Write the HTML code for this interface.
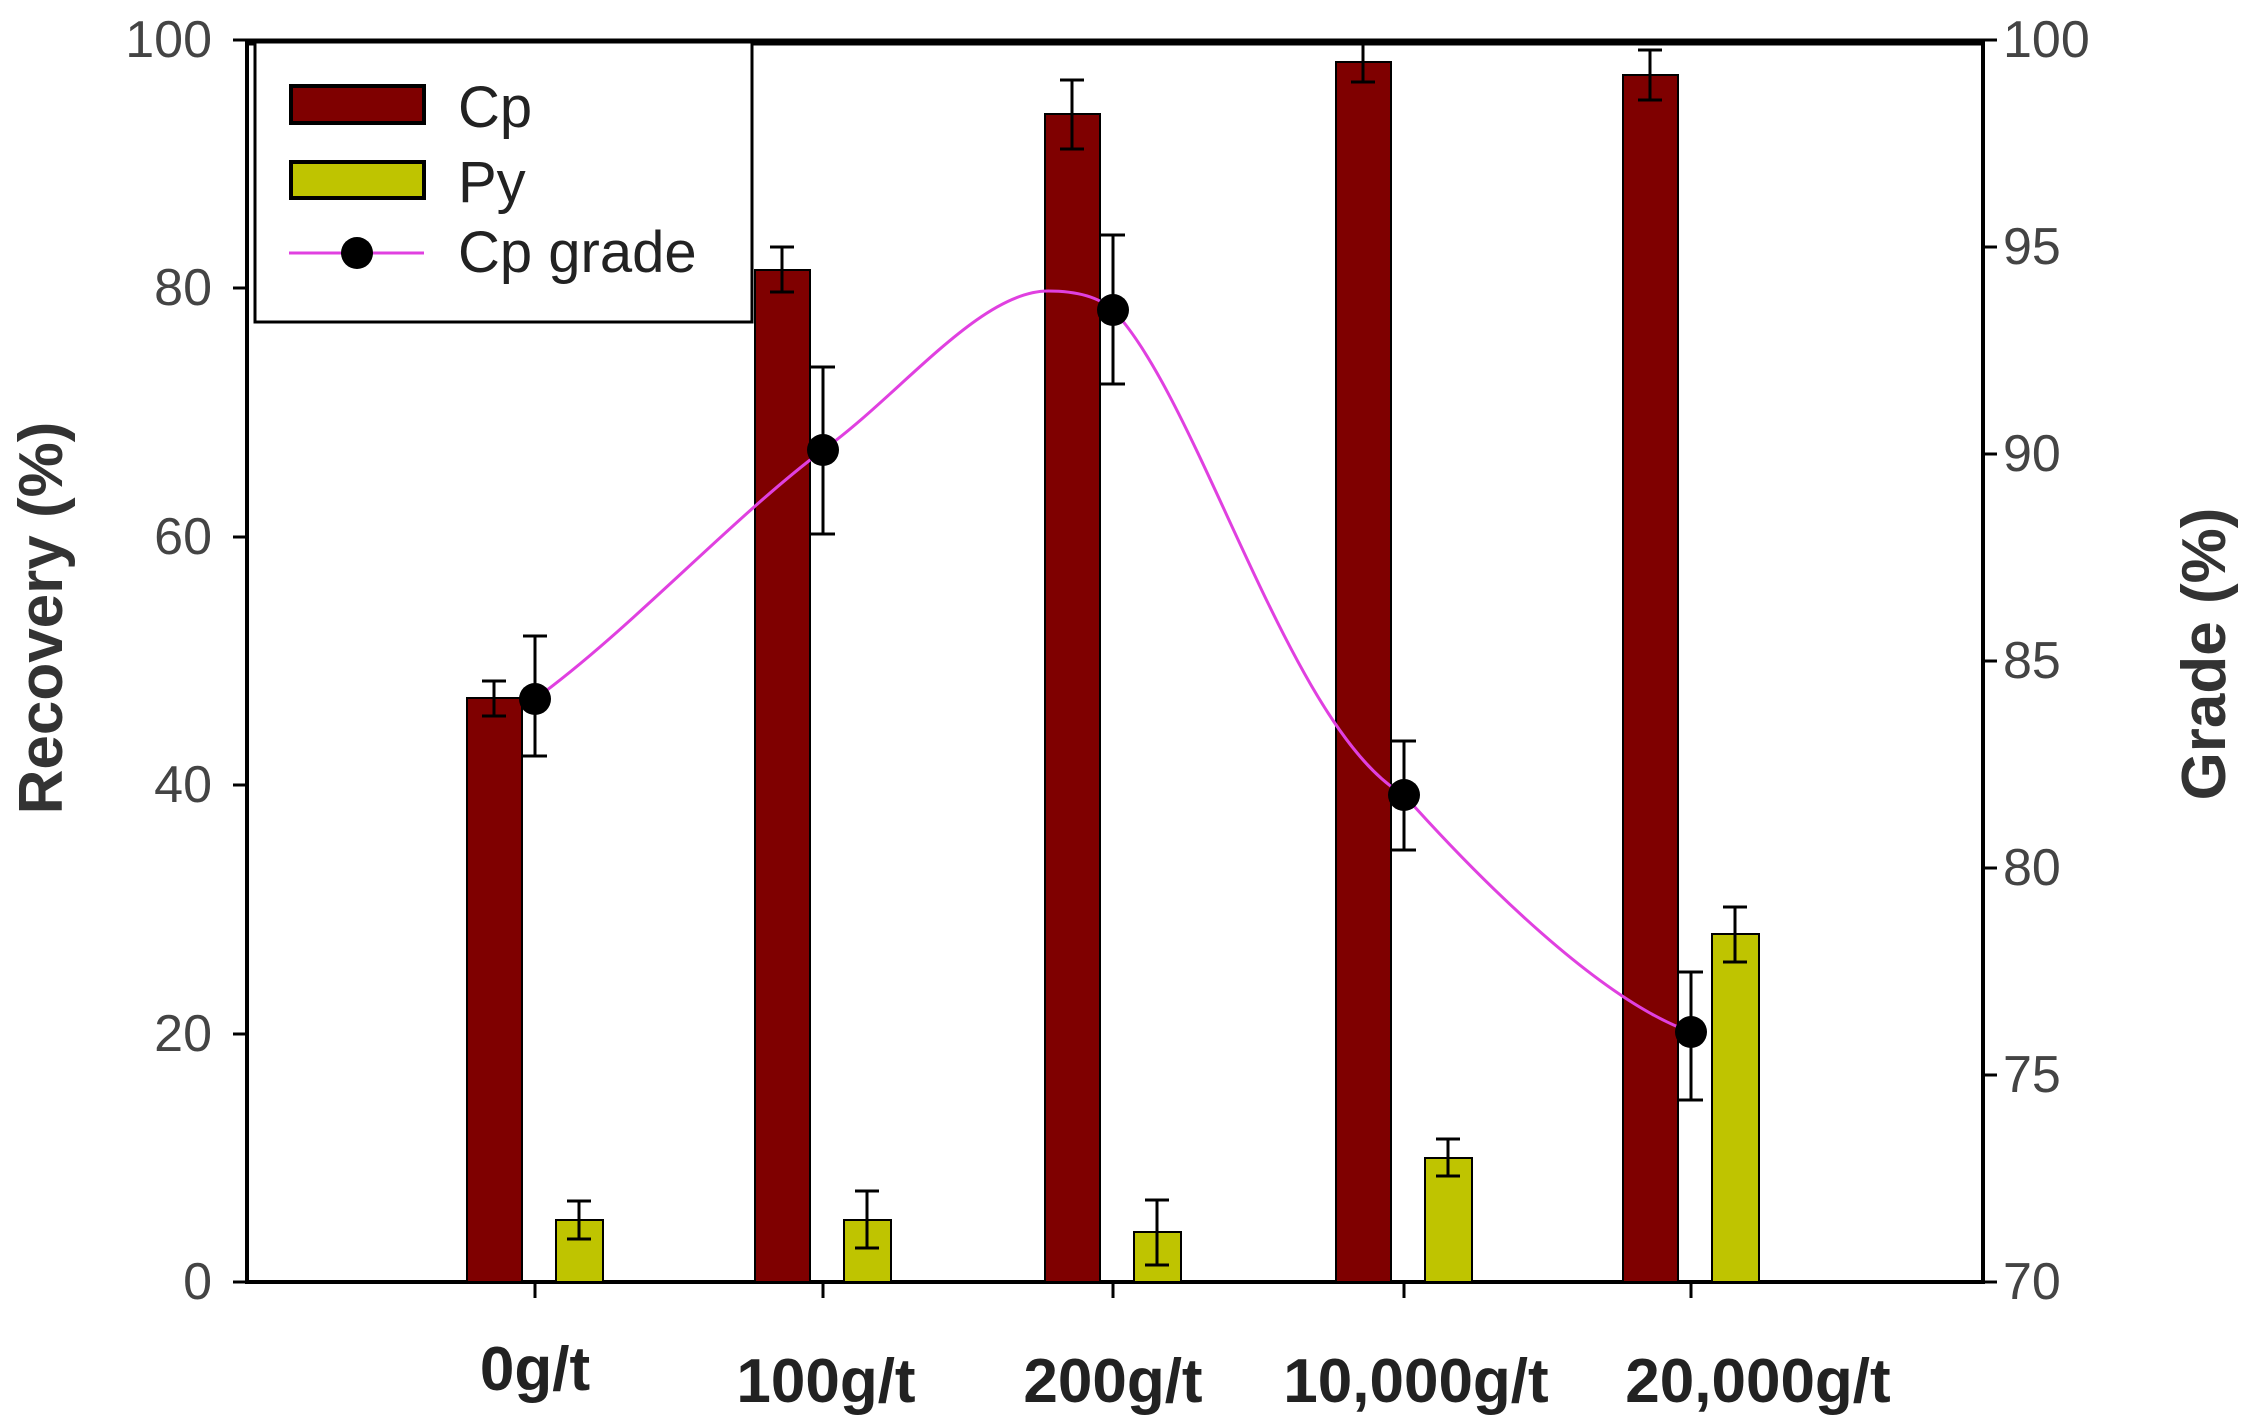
<!DOCTYPE html>
<html><head><meta charset="utf-8"><style>
html,body{margin:0;padding:0;background:#fff;}
svg{display:block;}
text{font-family:"Liberation Sans",Arial,sans-serif;}
</style></head><body>
<svg width="2251" height="1419" viewBox="0 0 2251 1419" xmlns="http://www.w3.org/2000/svg">
<rect width="2251" height="1419" fill="#fff"/>
<line x1="245" y1="42" x2="1984" y2="42" stroke="#000" stroke-width="7"/>
<line x1="247" y1="40" x2="247" y2="1284" stroke="#000" stroke-width="4"/>
<line x1="1983" y1="40" x2="1983" y2="1284" stroke="#000" stroke-width="4"/>
<line x1="247" y1="1282" x2="1983" y2="1282" stroke="#000" stroke-width="4"/>
<g stroke="#000" stroke-width="3">
<line x1="233" y1="40" x2="247" y2="40"/><line x1="233" y1="288" x2="247" y2="288"/><line x1="233" y1="537" x2="247" y2="537"/><line x1="233" y1="785" x2="247" y2="785"/><line x1="233" y1="1034" x2="247" y2="1034"/><line x1="233" y1="1282" x2="247" y2="1282"/>
<line x1="1983" y1="40" x2="1997" y2="40"/><line x1="1983" y1="247" x2="1997" y2="247"/><line x1="1983" y1="454" x2="1997" y2="454"/><line x1="1983" y1="661" x2="1997" y2="661"/><line x1="1983" y1="868" x2="1997" y2="868"/><line x1="1983" y1="1075" x2="1997" y2="1075"/><line x1="1983" y1="1282" x2="1997" y2="1282"/>
<line x1="535" y1="1282" x2="535" y2="1298"/><line x1="823" y1="1282" x2="823" y2="1298"/><line x1="1113" y1="1282" x2="1113" y2="1298"/><line x1="1404" y1="1282" x2="1404" y2="1298"/><line x1="1691" y1="1282" x2="1691" y2="1298"/>
</g>
<g font-size="52" fill="#444" text-anchor="end">
<text x="212" y="57">100</text><text x="212" y="305">80</text><text x="212" y="554">60</text><text x="212" y="802">40</text><text x="212" y="1051">20</text><text x="212" y="1299">0</text>
</g>
<g font-size="52" fill="#444" text-anchor="start">
<text x="2003" y="57">100</text><text x="2003" y="264">95</text><text x="2003" y="471">90</text><text x="2003" y="678">85</text><text x="2003" y="885">80</text><text x="2003" y="1092">75</text><text x="2003" y="1299">70</text>
</g>
<g font-size="62" font-weight="bold" fill="#222" text-anchor="middle">
<text x="535" y="1390">0g/t</text><text x="826" y="1402">100g/t</text><text x="1113" y="1402">200g/t</text><text x="1416" y="1402">10,000g/t</text><text x="1758" y="1402">20,000g/t</text>
</g>
<text transform="translate(62,618) rotate(-90)" font-size="62" font-weight="bold" fill="#333" text-anchor="middle">Recovery (%)</text>
<text transform="translate(2225,654) rotate(-90)" font-size="62" font-weight="bold" fill="#333" text-anchor="middle">Grade (%)</text>
<g fill="#7f0000" stroke="#000" stroke-width="2">
<rect x="467" y="698" width="55" height="584"/>
<rect x="755" y="270" width="55" height="1012"/>
<rect x="1045" y="114" width="55" height="1168"/>
<rect x="1336" y="62" width="55" height="1220"/>
<rect x="1623" y="75" width="55" height="1207"/>
</g>
<g fill="#bfc400" stroke="#000" stroke-width="2">
<rect x="556" y="1220" width="47" height="62"/>
<rect x="844" y="1220" width="47" height="62"/>
<rect x="1134" y="1232" width="47" height="50"/>
<rect x="1425" y="1158" width="47" height="124"/>
<rect x="1712" y="934" width="47" height="348"/>
</g>
<g stroke="#000" stroke-width="3" fill="none">
<path d="M494,681V716M482,681H506M482,716H506"/>
<path d="M782,247V292M770,247H794M770,292H794"/>
<path d="M1072,80V149M1060,80H1084M1060,149H1084"/>
<path d="M1363,42V82M1351,42H1375M1351,82H1375"/>
<path d="M1650,50V100M1638,50H1662M1638,100H1662"/>
<path d="M579,1201V1239M567,1201H591M567,1239H591"/>
<path d="M867,1191V1248M855,1191H879M855,1248H879"/>
<path d="M1157,1200V1265M1145,1200H1169M1145,1265H1169"/>
<path d="M1448,1139V1176M1436,1139H1460M1436,1176H1460"/>
<path d="M1735,907V962M1723,907H1747M1723,962H1747"/>
<path d="M535,636V756M523,636H547M523,756H547"/>
<path d="M823,367V534M811,367H835M811,534H835"/>
<path d="M1113,235V384M1101,235H1125M1101,384H1125"/>
<path d="M1404,741V850M1392,741H1416M1392,850H1416"/>
<path d="M1691,972V1100M1679,972H1703M1679,1100H1703"/>
</g>
<path d="M535,699 C630,630 730,520 823,450 C900,395 980,291 1048,291 C1080,291 1100,298 1113,310 C1200,400 1290,730 1404,795 C1480,880 1600,1000 1691,1032" stroke="#e040e0" stroke-width="3" fill="none"/>
<g fill="#000">
<circle cx="535" cy="699" r="16"/><circle cx="823" cy="450" r="16"/><circle cx="1113" cy="310" r="16"/><circle cx="1404" cy="795" r="16"/><circle cx="1691" cy="1032" r="16"/>
</g>
<rect x="255" y="42" width="497" height="280" fill="#fff" stroke="#000" stroke-width="3"/>
<rect x="291" y="86" width="133" height="37" fill="#7f0000" stroke="#000" stroke-width="4"/>
<rect x="291" y="162" width="133" height="36" fill="#bfc400" stroke="#000" stroke-width="4"/>
<line x1="289" y1="253" x2="424" y2="253" stroke="#e040e0" stroke-width="3"/>
<circle cx="357" cy="253" r="16" fill="#000"/>
<g font-size="58" fill="#222">
<text x="458" y="127">Cp</text><text x="458" y="202">Py</text><text x="458" y="272">Cp grade</text>
</g>
</svg>
</body></html>
